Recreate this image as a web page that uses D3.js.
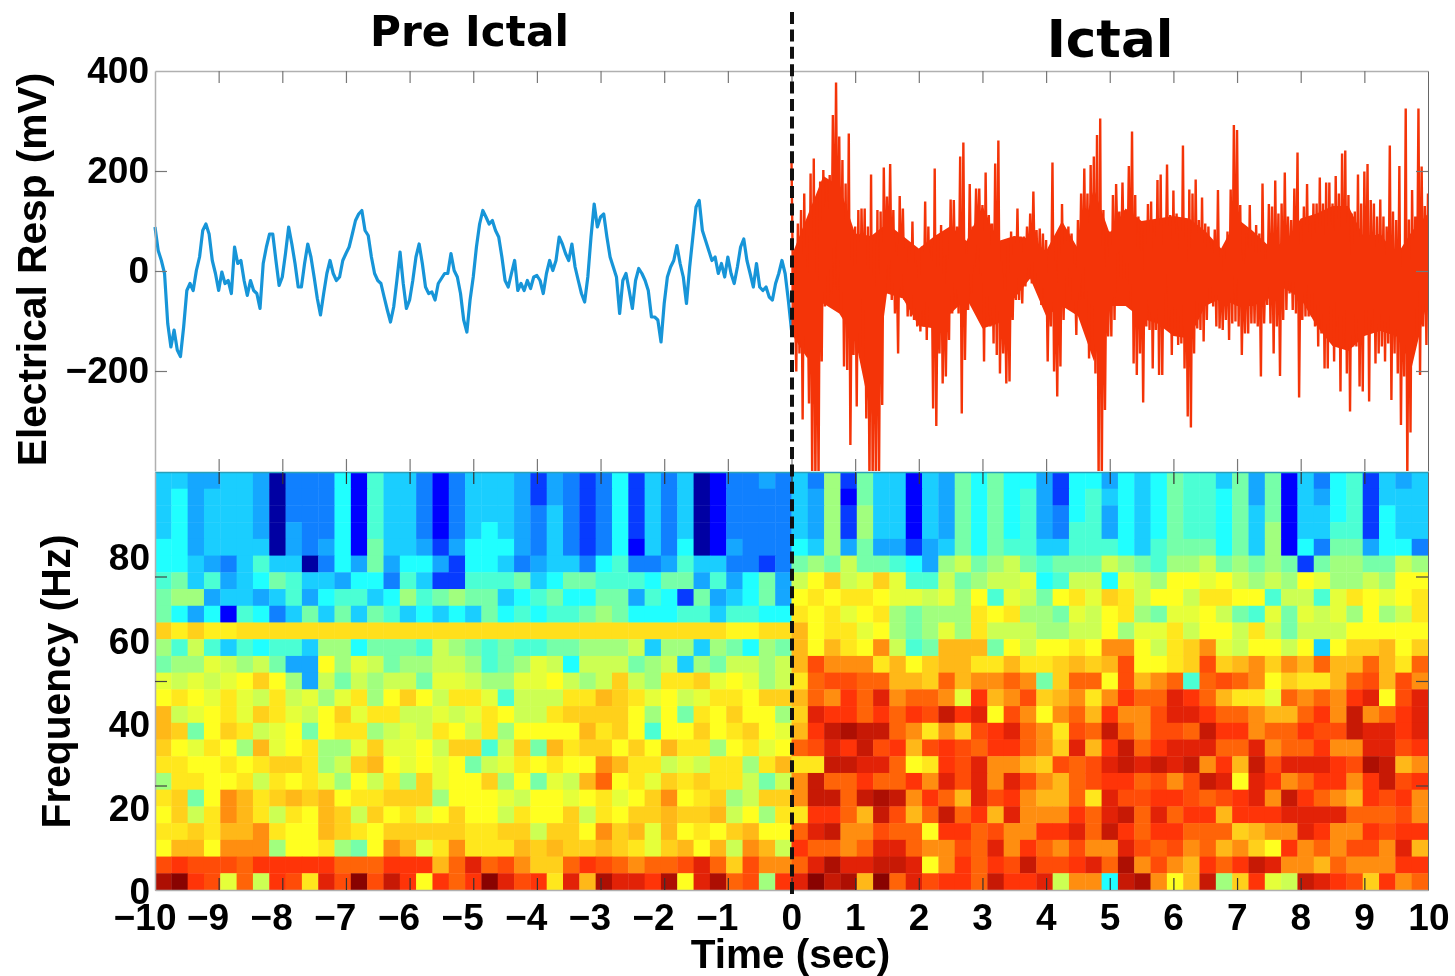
<!DOCTYPE html>
<html>
<head>
<meta charset="utf-8">
<script src="https://cdn.jsdelivr.net/npm/d3@7/dist/d3.min.js"></script>
<style>
  html, body { margin: 0; padding: 0; background: #fff; }
  svg { display: block; filter: blur(0.6px); }
  text { font-family: "Liberation Sans", Arial, sans-serif; font-weight: bold; fill: #000; }
  .title { font-family: "DejaVu Sans", Verdana, sans-serif; }
</style>
</head>
<body>
<script>
// time ticks (sec)
var timeTicks = [-10,-9,-8,-7,-6,-5,-4,-3,-2,-1,0,1,2,3,4,5,6,7,8,9,10];
var respLabels = [400,200,0,-200];
var freqLabels = [0,20,40,60,80];
var freqTicks = [25,50,75];

// pre ictal trace (mV), one value every 0.05 sec from -10 to 0
var preIctal = [88,41,21,-5,-105,-152,-118,-158,-171,-112,-39,-25,-39,1,28,81,94,74,21,-5,
 -39,-2,-25,-19,-45,48,15,21,-19,-49,-19,-39,-45,-75,15,48,74,74,21,-29,
 -12,35,88,54,15,-32,-32,15,54,28,-12,-55,-88,-45,-5,21,-5,-19,-12,21,
 35,48,74,101,114,121,81,71,28,-5,-19,-25,-52,-78,-102,-72,-19,38,-25,-75,
 -58,-19,28,54,15,-32,-45,-42,-58,-25,-15,-5,-5,35,1,-12,-45,-98,-122,-58,
 -12,48,94,121,108,94,101,81,68,28,-19,-32,-5,21,-39,-25,-39,-19,-35,-12,
 -9,-19,-45,-5,21,1,21,68,54,35,21,54,8,-19,-45,-62,-12,68,134,88,
 108,114,68,28,8,-12,-85,-19,-5,-39,-75,-19,5,-5,-19,-39,-92,-92,-98,-142,
 -65,-12,8,21,51,15,-12,-65,8,68,128,141,81,61,41,21,28,-5,15,-12,
 28,-5,-25,8,48,64,21,-5,-32,15,-32,-39,-32,-52,-58,-25,-5,21,-5,-58,-118];

// ictal trace envelope (mV), one pair every 0.05 sec from 0 to 10
var ictalHigh = [222,-31,95,122,155,9,195,225,49,179,202,179,192,312,377,269,222,175,275,49,
 89,122,125,125,89,193,62,122,119,207,149,214,122,49,150,125,49,49,99,22,
 12,49,139,89,49,205,42,92,32,32,143,142,89,229,257,35,174,89,165,165,
 132,197,112,95,215,261,19,-5,49,79,69,125,69,69,89,115,159,82,85,75,
 62,42,217,22,75,134,75,89,75,15,102,155,205,155,212,229,272,305,122,75,
 79,152,174,119,177,122,210,279,152,109,85,85,134,139,89,182,193,92,213,112,
 161,115,89,251,75,163,155,183,102,147,95,89,59,83,162,29,49,79,163,292,
 282,132,42,75,132,75,92,75,175,25,134,129,181,115,135,197,109,102,165,237,
 89,129,174,95,135,135,187,135,177,177,135,190,155,235,241,152,115,119,193,135,
 199,214,142,135,109,143,109,89,251,119,102,210,45,325,103,162,109,325,209,130,155];
var ictalLow = [-45,-201,-165,-297,-165,-265,-420,-420,-420,-181,-71,-68,-45,-31,-38,-78,-191,-198,-348,-168,
 -271,-151,-78,-295,-420,-420,-420,-420,-268,-45,-18,-58,-85,-165,-38,-58,-91,-91,-98,-111,
 -121,-111,-138,-105,-275,-310,-165,-225,-211,-138,-85,-65,-85,-285,-178,-78,-45,9,22,-5,
 -181,-91,-111,-145,-168,-205,-165,-225,-221,-98,-58,-58,-65,-31,-11,-25,-25,-38,-68,-58,
 -181,-111,-201,-251,-191,-98,-11,-31,-58,-128,-58,-55,-55,-175,-131,-205,-420,-420,-278,-131,
 -131,-98,35,-11,-15,-18,-75,-185,-208,-165,-263,-111,-118,-195,-118,-208,-208,-45,-111,-168,
 -125,-148,-145,-195,-291,-313,-165,-115,-118,-141,-98,-51,-71,-111,-115,-118,-98,-138,-105,-101,
 -111,-168,-125,-125,-105,-105,-111,-211,-105,-68,-105,-165,-111,-210,-98,-78,-45,-78,-85,-253,
 -98,-91,-91,-91,-111,-151,-125,-195,-195,-111,-181,-111,-241,-151,-205,-281,-151,-151,-231,-241,
 -111,-261,-111,-185,-165,-151,-181,-145,-258,-165,-205,-308,-211,-420,-323,-155,-111,-208,-111,-148,-45];

// solid body of the ictal trace (mV), every 0.25 sec
var coreHigh = [30,110,190,170,75,70,95,70,45,70,90,60,130,60,70,65,40,100,45,165,75,
 125,100,105,110,105,80,45,105,80,50,55,105,115,130,130,65,75,30,80,115];
var coreLow = [-125,-175,-65,-85,-135,-290,-45,-55,-110,-115,-85,-55,-115,-105,-55,-15,-90,-70,-90,-180,-70,
 -70,-95,-105,-130,-135,-70,-55,-70,-70,-55,-35,-55,-110,-150,-160,-130,-120,-130,-190,-55];

// frequency bins of the spectrogram rows, top to bottom (Hz)
var freqBins = [98,94,90,86,82,78,74,70,66,62,58,54,50,46,42,38,34,30,26,22,18,14,10,6,2];

// spectrogram power, one row per frequency bin, 78 time bins (colormap position 0-100)
var power = [
 [32,32,28,28,32,32,28,3,24,24,24,37,11,42,32,32,24,11,24,32,32,32,28,17,28,24,17,24,37,17,32,24,32,3,11,24,24,28,24,32,24,52,17,47,32,32,11,32,28,47,37,47,37,37,28,17,37,37,28,37,32,37,47,42,42,32,47,28,47,11,32,24,37,42,17,32,28,32],
 [32,37,28,32,32,32,28,3,24,24,24,37,11,42,32,32,24,11,24,32,32,32,28,17,28,24,17,24,37,17,32,24,32,3,11,24,24,24,24,32,28,52,11,47,32,32,11,32,28,47,37,47,37,42,28,17,37,42,32,37,32,37,47,42,42,37,47,28,47,11,32,28,37,42,17,32,32,32],
 [32,37,28,32,32,32,28,3,24,24,24,37,11,42,32,32,24,11,24,32,32,32,28,24,32,24,17,24,37,17,32,24,32,3,11,24,24,24,24,32,28,52,17,52,32,32,11,32,28,47,37,47,37,42,28,24,37,42,28,37,32,37,47,42,42,37,47,32,47,11,32,32,37,42,17,37,32,32],
 [32,37,28,32,32,32,28,3,28,24,24,37,11,42,32,32,24,11,24,32,37,32,28,24,32,24,17,24,37,17,32,24,32,3,11,24,24,24,24,32,28,52,17,52,32,32,11,32,28,47,37,47,37,42,28,24,42,42,28,37,32,37,47,42,42,37,47,32,52,11,32,32,42,42,17,37,32,32],
 [37,37,28,32,32,32,32,3,28,24,28,37,11,47,32,32,28,17,28,37,37,37,28,24,32,24,17,24,37,11,32,24,37,3,11,28,24,24,24,37,32,52,28,47,28,28,17,28,32,47,37,47,42,42,32,32,42,42,42,37,32,42,47,47,47,37,47,32,52,11,37,24,47,47,28,37,37,24],
 [37,37,32,28,24,32,42,32,32,3,24,37,28,47,28,37,37,28,17,37,37,32,24,28,32,32,24,37,42,24,24,28,42,32,32,24,24,17,24,47,52,47,57,47,47,42,37,28,52,57,47,52,57,47,42,47,47,47,57,52,47,42,52,52,57,47,52,47,52,47,17,47,52,52,47,47,57,52],
 [42,47,32,42,28,32,37,47,42,32,32,28,37,37,24,42,32,17,17,42,42,42,47,32,37,47,47,42,42,42,37,47,47,28,42,28,37,47,28,57,63,69,57,60,69,60,42,42,57,47,52,57,57,60,37,42,57,57,37,60,57,52,63,63,60,63,57,52,57,52,63,60,52,52,57,52,63,63],
 [47,52,52,28,32,32,28,32,42,28,37,42,42,32,37,52,42,47,52,47,47,32,37,42,47,37,37,47,47,28,42,37,17,47,28,32,37,47,28,63,66,63,66,66,63,60,60,57,60,52,63,42,60,57,47,63,66,60,69,66,57,63,63,57,66,66,63,63,42,57,57,42,60,66,63,60,63,66],
 [47,37,28,37,11,42,37,24,32,47,32,47,32,47,42,32,37,32,37,32,47,37,42,37,42,42,47,52,47,37,37,37,42,42,32,42,42,37,37,66,63,66,60,63,66,52,47,52,52,52,66,63,66,52,52,47,60,57,63,66,52,47,60,60,63,57,47,42,60,47,60,57,60,52,63,52,57,66],
 [69,65,69,65,65,67,67,67,67,67,67,67,67,67,67,67,67,67,67,67,67,67,67,67,67,67,67,67,67,67,67,67,67,67,67,64,64,67,67,72,63,66,66,60,63,52,47,52,60,52,66,57,57,57,52,52,57,57,63,52,60,60,66,57,63,63,57,66,57,47,57,57,57,63,63,63,63,63],
 [52,42,57,42,32,42,37,42,42,32,52,52,37,47,47,47,42,57,52,47,42,47,42,42,47,47,52,52,52,57,32,52,52,32,52,47,37,52,47,72,63,72,66,63,75,57,42,47,72,72,72,47,63,57,63,63,66,63,75,75,63,57,66,69,75,60,57,63,63,57,63,32,63,69,69,72,63,69],
 [47,52,52,60,57,52,57,47,28,28,63,52,60,57,47,52,52,57,57,52,42,47,52,60,57,37,57,57,57,47,52,57,32,52,47,57,57,52,57,72,81,75,75,75,66,72,63,69,72,72,66,66,72,66,66,69,72,69,72,81,63,63,66,69,81,69,72,75,69,75,72,78,72,72,78,72,66,78],
 [60,57,60,57,60,63,69,63,52,28,57,47,57,52,57,57,47,60,60,57,52,52,60,60,63,57,52,57,69,57,52,66,66,69,60,63,60,52,57,66,78,81,81,78,78,72,72,69,78,72,75,75,78,75,47,69,78,78,63,81,72,75,78,42,78,81,78,75,63,69,66,66,72,78,81,72,81,75],
 [63,66,63,60,66,60,57,66,57,60,52,60,66,52,63,69,63,57,66,66,60,42,57,57,57,66,66,72,69,66,60,63,57,60,66,66,63,69,69,72,78,75,84,78,89,75,78,78,75,60,84,72,75,81,69,72,75,66,75,84,78,78,89,84,78,72,66,66,60,78,75,78,75,84,89,63,81,89],
 [72,57,60,63,66,60,69,66,60,57,63,69,60,66,66,57,57,60,57,60,66,63,57,57,66,69,69,69,69,63,52,63,47,66,63,69,63,63,52,69,89,84,84,78,84,78,84,81,92,84,89,63,81,75,63,75,78,72,84,75,75,81,89,89,84,78,78,75,72,72,78,84,75,92,75,78,84,89],
 [72,69,47,63,69,66,57,60,63,47,63,66,66,52,57,60,57,66,63,57,66,52,63,63,63,63,72,66,69,63,42,63,63,69,63,66,69,63,60,72,84,92,95,92,92,78,75,66,75,69,81,84,89,78,75,66,81,78,92,78,75,81,81,78,92,84,84,75,78,78,84,81,81,92,89,89,84,89],
 [69,63,60,66,63,52,72,60,63,66,52,52,60,69,60,60,63,57,69,69,42,57,69,47,72,66,69,69,63,69,63,72,66,66,52,63,66,60,63,78,81,89,84,92,81,84,72,81,84,81,78,84,84,78,75,69,89,72,84,92,78,84,89,89,89,78,78,89,75,78,78,84,75,75,89,89,81,84],
 [66,66,63,63,66,63,66,69,69,66,52,57,69,72,63,60,63,60,63,47,57,60,66,63,66,63,63,75,72,66,66,57,60,57,66,66,52,66,72,66,66,92,92,89,89,78,63,66,84,81,89,75,75,72,69,81,78,81,89,92,89,92,89,92,75,84,72,92,81,89,89,89,84,81,95,92,72,75],
 [52,66,66,63,63,66,57,66,63,66,60,52,63,57,66,52,69,60,63,63,69,52,63,47,60,57,72,78,63,66,60,69,66,69,66,66,57,47,57,75,92,78,78,84,78,78,84,75,89,81,89,75,89,81,75,72,78,81,84,84,78,81,75,81,92,89,63,89,84,75,78,84,84,75,84,92,81,84],
 [66,69,47,63,75,72,66,69,72,69,72,63,66,66,69,69,69,52,63,63,63,60,57,63,63,60,63,66,60,63,69,75,63,66,69,52,57,69,69,75,92,92,78,92,95,92,75,84,78,72,89,81,84,75,72,72,78,66,89,81,81,84,84,81,78,81,84,89,75,92,84,78,75,72,84,81,84,75],
 [63,69,57,66,75,72,66,57,66,63,72,69,57,69,63,66,60,63,69,63,63,57,66,63,63,69,57,66,63,69,69,72,69,69,72,57,63,52,66,66,84,84,78,72,92,81,72,78,92,78,84,72,89,75,75,75,84,78,89,92,78,89,78,84,84,72,84,84,84,89,89,89,89,78,78,78,81,75],
 [66,66,69,66,72,72,75,66,63,63,72,69,66,63,69,69,69,69,69,66,66,69,69,57,69,69,63,75,69,72,60,72,63,66,63,69,72,63,63,78,89,92,75,75,81,78,78,63,84,84,78,81,75,75,84,84,89,78,92,84,78,84,84,78,78,78,69,72,75,75,89,84,75,75,84,81,84,84],
 [63,72,72,63,75,75,75,52,63,63,66,52,47,63,75,72,60,66,75,66,66,66,72,69,72,69,69,72,69,66,60,69,72,63,72,57,75,72,57,84,78,78,75,78,89,89,78,75,75,81,78,89,75,84,78,75,81,75,75,89,81,78,81,75,78,72,75,69,63,84,75,78,75,81,81,75,89,72],
 [81,84,81,81,81,78,84,84,84,84,84,78,78,78,84,84,84,72,78,89,78,81,75,69,69,78,84,81,78,75,78,78,81,89,78,69,81,75,75,78,89,95,89,89,92,92,89,63,75,84,78,84,81,92,81,81,84,89,78,95,75,81,75,72,84,78,84,92,89,75,75,72,78,75,75,75,84,84],
 [95,99,84,81,60,78,57,84,81,66,89,81,99,81,92,84,63,84,78,84,99,89,81,84,66,89,72,95,89,89,84,95,63,89,95,78,81,52,84,89,99,92,95,72,99,78,89,81,84,84,78,92,84,84,89,57,75,75,37,92,95,75,63,72,92,52,69,84,60,57,92,89,84,81,69,84,75,78]
];

var width = 1455, height = 976;
var left = 155, right = 1428;
var topY = 71, midY = 471, heatTop = 472, heatBottom = 890;

var svg = d3.select("body").append("svg")
    .attr("width", width)
    .attr("height", height);

var x = d3.scaleLinear().domain([-10, 10]).range([left, right]);
var yResp = d3.scaleLinear().domain([-400, 400]).range([midY, topY]);
var yFreq = d3.scaleLinear().domain([0, 100]).range([heatBottom, heatTop]);

// jet-like colormap
var color = d3.scaleLinear()
    .domain([0, 11, 37, 63, 72, 78, 84, 87, 100])
    .range(["#000080", "#0000ff", "#20ffff", "#ffff20", "#ffb818", "#ff6408", "#ff3408", "#f42808", "#800000"]);

var colBand = d3.scaleBand().domain(d3.range(power[0].length)).range([left, right]);
var rowBand = d3.scaleBand().domain(freqBins).range([heatTop, heatBottom]);

// Spectrogram
var rows = svg.append("g").selectAll("g")
    .data(power)
    .enter().append("g")
    .attr("transform", function(d, i) { return "translate(0," + rowBand(freqBins[i]) + ")"; });

rows.selectAll("rect")
    .data(function(d) { return d; })
    .enter().append("rect")
    .attr("x", function(d, i) { return colBand(i); })
    .attr("width", colBand.bandwidth() + 0.4)
    .attr("height", rowBand.bandwidth() + 0.4)
    .attr("fill", function(d) { return color(d); });

// Traces
svg.append("clipPath").attr("id", "resp-clip")
    .append("rect")
    .attr("x", left).attr("y", topY)
    .attr("width", right - left).attr("height", midY - topY);

var preLine = d3.line()
    .x(function(d, i) { return x(-10 + i * 0.05); })
    .y(function(d) { return yResp(d); });

svg.append("path")
    .attr("d", preLine(preIctal))
    .attr("fill", "none")
    .attr("stroke", "#1795d8")
    .attr("stroke-width", 3.2)
    .attr("stroke-linejoin", "round");

var coreArea = d3.area()
    .x(function(d, i) { return x(i * 0.25); })
    .y0(function(d, i) { return yResp(coreLow[i]); })
    .y1(function(d) { return yResp(d); });

svg.append("path")
    .attr("d", coreArea(coreHigh))
    .attr("fill", "#f43408");

// zigzag between the high and low of every step
var ictal = [];
ictalHigh.forEach(function(h, i) {
    ictal.push([i * 0.05, h]);
    ictal.push([i * 0.05 + 0.025, ictalLow[i]]);
});

var ictalLine = d3.line()
    .x(function(d) { return x(d[0]); })
    .y(function(d) { return yResp(d[1]); });

svg.append("path")
    .attr("clip-path", "url(#resp-clip)")
    .attr("d", ictalLine(ictal))
    .attr("fill", "none")
    .attr("stroke", "#f43408")
    .attr("stroke-width", 2.4);

// Draw one axis of inward ticks, no labels
function ticks(axis, tx, ty, stroke) {
    var g = svg.append("g")
	.attr("transform", "translate(" + tx + "," + ty + ")")
	.call(axis.tickFormat("").tickSizeOuter(0));
    g.selectAll("path").attr("stroke", "#b0b0b0").attr("stroke-width", 1.5);
    g.selectAll("line").attr("stroke", stroke).attr("stroke-width", 1.2);
    return g;
}

var inner = timeTicks.slice(1, -1);
var tickLen = 12;

ticks(d3.axisBottom(x).tickValues(inner).tickSize(tickLen), 0, topY, "#777");
ticks(d3.axisTop(x).tickValues(inner).tickSize(tickLen), 0, midY, "#777").selectAll("path").attr("stroke", "none");
ticks(d3.axisBottom(x).tickValues(inner).tickSize(tickLen), 0, heatTop, "#333").selectAll("path").attr("stroke", "#2aa0b8");
ticks(d3.axisTop(x).tickValues(inner).tickSize(tickLen), 0, heatBottom, "#333");

ticks(d3.axisRight(yResp).tickValues(respLabels.slice(1)).tickSize(tickLen), left, 0, "#777");
ticks(d3.axisLeft(yResp).tickValues(respLabels.slice(1)).tickSize(tickLen), right, 0, "#777").selectAll("path").attr("stroke", "#666").attr("stroke-width", 1);
ticks(d3.axisRight(yFreq).tickValues(freqTicks).tickSize(tickLen), left, 0, "#444");
ticks(d3.axisLeft(yFreq).tickValues(freqTicks).tickSize(tickLen), right, 0, "#444").selectAll("path").attr("stroke", "#666").attr("stroke-width", 1);

// Tick labels
function numFormat(d) { return d < 0 ? "\u2212" + Math.abs(d) : "" + d; }

function labels(axis, tx, ty) {
    var g = svg.append("g")
	.attr("transform", "translate(" + tx + "," + ty + ")")
	.call(axis.tickSize(0).tickFormat(numFormat));
    g.select("path").remove();
    g.selectAll("text")
	.attr("font-size", 37)
	.style("font-family", '"Liberation Sans", Arial, sans-serif')
	.style("font-weight", "bold")
	.attr("fill", "#000");
    return g;
}

labels(d3.axisLeft(yResp).tickValues(respLabels).tickPadding(6), left, 0);
labels(d3.axisLeft(yFreq).tickValues(freqLabels).tickPadding(5), left, 2);

// the digits sit on the tick, the minus hangs to the left
labels(d3.axisBottom(x).tickValues(timeTicks).tickPadding(0), 0, heatBottom)
    .selectAll("text")
    .attr("text-anchor", "end")
    .attr("x", function(d) { return Math.abs(d) > 9 ? 21 : 10; })
    .attr("y", 40)
    .attr("dy", 0);

// Axis titles
svg.append("text")
    .attr("transform", "translate(46,269.5) rotate(-90)")
    .attr("text-anchor", "middle")
    .attr("font-size", 40.7)
    .text("Electrical Resp (mV)");

svg.append("text")
    .attr("transform", "translate(70,681.5) rotate(-90)")
    .attr("text-anchor", "middle")
    .attr("font-size", 40.7)
    .text("Frequency (Hz)");

svg.append("text")
    .attr("x", 790.5)
    .attr("y", 968)
    .attr("text-anchor", "middle")
    .attr("font-size", 40.5)
    .text("Time (sec)");

svg.append("text").attr("class", "title")
    .attr("x", 469.5)
    .attr("y", 46)
    .attr("text-anchor", "middle")
    .attr("font-size", 42.2)
    .text("Pre Ictal");

svg.append("text").attr("class", "title")
    .attr("x", 1110)
    .attr("y", 57)
    .attr("text-anchor", "middle")
    .attr("font-size", 51.5)
    .text("Ictal");

// Seizure onset
svg.append("line")
    .attr("x1", x(0) + 0.5).attr("x2", x(0) + 0.5)
    .attr("y1", 12).attr("y2", 894)
    .attr("stroke", "#111")
    .attr("stroke-width", 4)
    .attr("stroke-dasharray", "12,5.4");
</script>
</body>
</html>
